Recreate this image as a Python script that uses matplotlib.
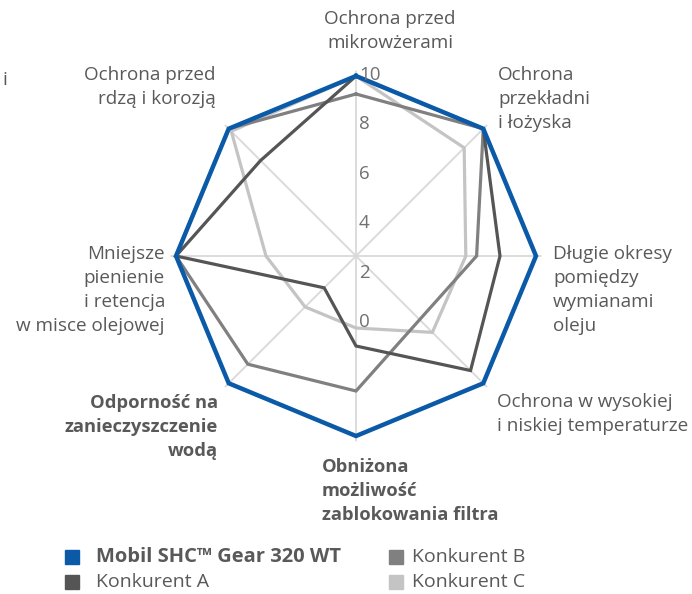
import numpy as np
import matplotlib
matplotlib.use("Agg")
import matplotlib.pyplot as plt

plt.rcParams['font.family'] = ['Open Sans', 'DejaVu Sans']

# categories, clockwise from the top
categories = [
    "Ochrona przed\nmikrowżerami",
    "Ochrona\nprzekładni\ni łożyska",
    "Długie okresy\npomiędzy\nwymianami\noleju",
    "Ochrona w wysokiej\ni niskiej temperaturze",
    "Obniżona\nmożliwość\nzablokowania filtra",
    "Odporność na\nzanieczyszczenie\nwodą",
    "Mniejsze\npienienie\ni retencja\nw misce olejowej",
    "Ochrona przed\nrdzą i korozją",
]
bold_cats = [False, False, False, False, True, True, False, False]

mobil = [10, 10, 10, 10, 10, 10, 10, 10]
konk_a = [10, 10, 8, 9, 5, 2.5, 10, 7.5]
konk_b = [9, 10, 6.7, 5, 7.5, 8.5, 10, 10]
konk_c = [10, 8.5, 6.1, 6, 4, 4, 5, 9.8]

series_names = ["Mobil SHC\u2122 Gear 320 WT", "Konkurent A", "Konkurent B", "Konkurent C"]
tick_labels = ["10", "8", "6", "4", "2", "0"]

# layout / styles
W, H = 692, 594
TXT = "#595959"
colors = ["#0a5aa8", "#555555", "#808080", "#c4c4c4"]
widths = [3.2, 2.3, 2.3, 2.3]
zorders = [6, 5, 4, 3]
FS = 13.6

# label anchors in pixels (x, y of first line centre, ha)
cat_pos = [
    (390, 22, "center"),
    (498, 78, "left"),
    (553, 257, "left"),
    (497, 405, "left"),
    (322, 470, "left"),
    (218, 406, "right"),
    (165, 257, "right"),
    (216, 78, "right"),
]

fig = plt.figure(figsize=(W / 100, H / 100), dpi=100)
cx, cy, R = 356, 256, 180 * 1.03
ax = fig.add_axes([(cx - R) / W, (H - cy - R) / H, 2 * R / W, 2 * R / H],
                  projection="polar")
ax.set_theta_zero_location("N")
ax.set_theta_direction(-1)

n = len(categories)
theta = np.arange(n) * 2 * np.pi / n
theta_c = np.append(theta, theta[0])

for vals, col, lw, z in zip([mobil, konk_a, konk_b, konk_c], colors, widths, zorders):
    v = np.append(vals, vals[0])
    ax.plot(theta_c, v, color=col, lw=lw, zorder=z, solid_joinstyle="miter")

ax.set_ylim(0, 10.3)
ax.set_yticks([])
ax.set_xticks(theta)
ax.set_xticklabels([])
ax.xaxis.grid(True, color="#d9d9d9", lw=1.3)
ax.spines["polar"].set_visible(False)
ax.set_facecolor("none")

# category labels
for lab, (x, y, ha), b in zip(categories, cat_pos, bold_cats):
    fig.text(x / W, 1 - (y - 12) / H, lab, ha=ha, va="top",
             fontsize=FS - 0.4 if b else FS,
             color=TXT, linespacing=1.42, fontweight="bold" if b else "normal",
             multialignment=ha)

# value labels along the top spoke
for i, t in enumerate(tick_labels):
    fig.text(359 / W, 1 - (75 + i * 49.4) / H, t, ha="left", va="center",
             fontsize=13.5, color="#707070", zorder=10)

fig.text(2 / W, 1 - 80 / H, "i", ha="left", va="center", fontsize=FS, color=TXT)

# legend
leg_pos = [(65, 557, 31), (65, 582, 31), (389, 557, 23), (389, 582, 23)]
for i, (x, y, off) in enumerate(leg_pos):
    fig.patches.append(plt.Rectangle((x / W, 1 - (y + 7) / H), 14 / W, 14 / H,
                                     transform=fig.transFigure, color=colors[i]))
    fig.text((x + off) / W, 1 - y / H, series_names[i], ha="left", va="center",
             fontsize=14.5 if i == 0 else 14, color=TXT,
             fontweight="bold" if i == 0 else "normal")

fig.savefig("out.png", dpi=100)
